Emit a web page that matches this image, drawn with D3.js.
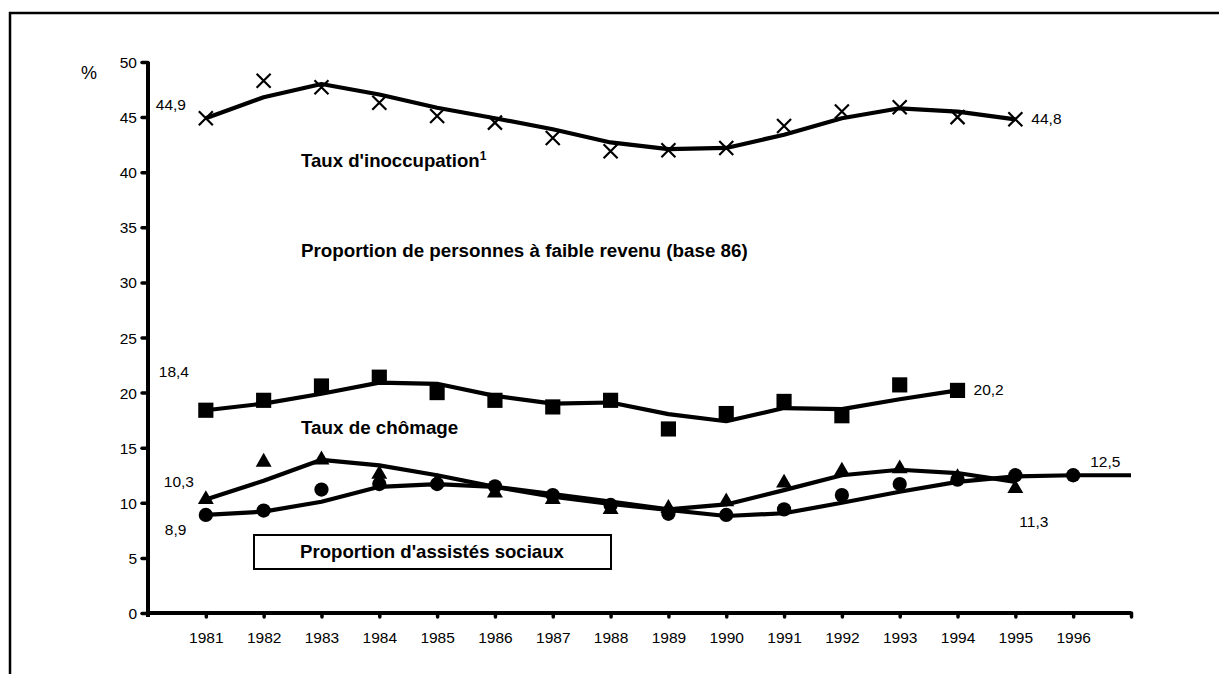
<!DOCTYPE html>
<html>
<head>
<meta charset="utf-8">
<script src="https://cdn.jsdelivr.net/npm/d3@7"></script>
<style>
  body { margin: 0; background: #fff; }
  svg text { font-family: "Liberation Sans", Arial, sans-serif; fill: #000; }
</style>
</head>
<body>
<svg id="chart" width="1219" height="674"></svg>
<script>
// ======== Data ========
const years = [1981, 1982, 1983, 1984, 1985, 1986, 1987, 1988, 1989, 1990, 1991, 1992, 1993, 1994, 1995, 1996];
const yTicks = [0, 5, 10, 15, 20, 25, 30, 35, 40, 45, 50];

// Taux d'inoccupation (raw points and smoothed line), 1981-1995
const inoccPoints = [44.9, 48.3, 47.7, 46.3, 45.1, 44.5, 43.1, 41.9, 42.0, 42.2, 44.2, 45.5, 45.9, 45.0, 44.8];
const inoccLine   = [44.9, 46.8, 48.0, 47.05, 45.85, 44.9, 43.9, 42.7, 42.1, 42.2, 43.4, 44.9, 45.8, 45.5, 44.8];

// Proportion de personnes à faible revenu, 1981-1994
const revenuPoints = [18.4, 19.3, 20.6, 21.4, 20.0, 19.3, 18.7, 19.3, 16.7, 18.1, 19.2, 17.9, 20.7, 20.2];
const revenuLine   = [18.4, 19.0, 19.9, 20.9, 20.8, 19.7, 19.0, 19.1, 18.05, 17.4, 18.6, 18.5, 19.4, 20.2];

// Taux de chômage, 1981-1995
const chomPoints = [10.3, 13.7, 13.9, 12.6, 11.9, 10.9, 10.3, 9.4, 9.5, 10.1, 11.8, 12.9, 13.1, 12.3, 11.3];
const chomLine   = [10.3, 12.0, 13.9, 13.4, 12.5, 11.45, 10.8, 10.1, 9.4, 9.85, 11.15, 12.5, 13.0, 12.7, 11.9];

// Proportion d'assistés sociaux, points 1981-1996, line 1981-1997
const assistPoints = [8.9, 9.3, 11.2, 11.7, 11.7, 11.5, 10.7, 9.8, 9.0, 8.9, 9.4, 10.7, 11.7, 12.1, 12.5, 12.5];
const assistLine   = [8.9, 9.2, 10.1, 11.45, 11.7, 11.45, 10.55, 9.9, 9.35, 8.8, 9.05, 10.0, 11.0, 11.9, 12.4, 12.5, 12.5];

// ======== Setup ========
const svg = d3.select('#chart');

const x = d3.scaleLinear().domain([1980, 1997]).range([148, 1131]);
const y = d3.scaleLinear().domain([0, 50]).range([613, 62]);

// outer frame (runs off the right and bottom edges)
svg.append('rect')
    .attr('x', 10).attr('y', 13)
    .attr('width', 1240).attr('height', 700)
    .attr('fill', 'none').attr('stroke', '#000').attr('stroke-width', 2.5);

// ======== Axes ========
const yAxis = svg.append('g').attr('transform', 'translate(' + x(1980) + ',0)')
    .call(d3.axisLeft(y).tickValues(yTicks).tickSize(6).tickPadding(5));
const xAxis = svg.append('g').attr('transform', 'translate(0,' + y(0) + ')')
    .call(d3.axisBottom(x).tickValues(years.concat([1997])).tickSize(4).tickPadding(15)
        .tickFormat(d => d === 1997 ? '' : d));

[yAxis, xAxis].forEach(function (g) {
    g.select('.domain').remove();
    g.selectAll('line').attr('stroke', '#000').attr('stroke-width', 3.5).attr('stroke-linecap', 'round');
    g.selectAll('text').attr('font-size', 15.5).attr('fill', '#000')
        .style('font-family', '"Liberation Sans", Arial, sans-serif');
});
yAxis.selectAll('text').attr('dy', '0.36em');

svg.append('line')
    .attr('x1', x(1980)).attr('x2', x(1980))
    .attr('y1', y(50)).attr('y2', y(0) + 4)
    .attr('stroke', '#000').attr('stroke-width', 4);
svg.append('line')
    .attr('x1', x(1980)).attr('x2', x(1997))
    .attr('y1', y(0)).attr('y2', y(0))
    .attr('stroke', '#000').attr('stroke-width', 4);

// ======== Series ========
const line = d3.line()
    .x((d, i) => x(1981 + i))
    .y(d => y(d));

function drawLine(values) {
    svg.append('path')
        .datum(values)
        .attr('d', line)
        .attr('fill', 'none')
        .attr('stroke', '#000')
        .attr('stroke-width', 4.2)
        .attr('stroke-linejoin', 'round');
}

function drawSymbols(values, type, size) {
    svg.append('g').selectAll('path')
        .data(values)
        .enter().append('path')
        .attr('transform', (d, i) => 'translate(' + x(1981 + i) + ',' + y(d) + ')')
        .attr('d', d3.symbol().type(type).size(size))
        .attr('fill', '#000');
}

// X markers for taux d'inoccupation
svg.append('g').selectAll('path')
    .data(inoccPoints)
    .enter().append('path')
    .attr('transform', (d, i) => 'translate(' + x(1981 + i) + ',' + y(d) + ')')
    .attr('d', 'M-7,-7L7,7M-7,7L7,-7')
    .attr('stroke', '#000').attr('stroke-width', 2.2).attr('fill', 'none');
drawLine(inoccLine);

drawSymbols(revenuPoints, d3.symbolSquare, 230);
drawLine(revenuLine);

drawSymbols(chomPoints, d3.symbolTriangle, 110);
drawLine(chomLine);

drawSymbols(assistPoints, d3.symbolCircle, 160);
drawLine(assistLine);

// ======== Labels ========
function label(text, px, py, opts) {
    opts = opts || {};
    return svg.append('text')
        .attr('x', px).attr('y', py)
        .attr('font-size', opts.size || 15.5)
        .attr('font-weight', opts.bold ? 'bold' : 'normal')
        .attr('text-anchor', opts.anchor || 'start')
        .text(text);
}

label('%', 81, 79, {size: 18});

// value labels next to the first / last points
label('44,9', x(1981) - 50, y(inoccLine[0]) - 8);
label('44,8', x(1995) + 16, y(inoccLine[14]) + 5);
label('18,4', x(1981) - 47, y(revenuLine[0]) - 33);
label('20,2', x(1994) + 16, y(revenuLine[13]) + 5);
label('10,3', x(1981) - 42, y(chomLine[0]) - 12);
label('11,3', x(1995) + 4, y(chomPoints[14]) + 39);
label('8,9', x(1981) - 41, y(assistLine[0]) + 20);
label('12,5', x(1996) + 17, y(assistLine[15]) - 8);

// series names
const t = label("Taux d'inoccupation", 301, 167, {bold: true, size: 18.6});
t.append('tspan').attr('font-size', 12).attr('dy', -7).text('1');
label('Proportion de personnes à faible revenu (base 86)', 301, 257, {bold: true, size: 18.8});
label('Taux de chômage', 301, 434, {bold: true, size: 18.8});

svg.append('rect')
    .attr('x', 254).attr('y', 535)
    .attr('width', 357).attr('height', 34)
    .attr('fill', '#fff').attr('stroke', '#000').attr('stroke-width', 2);
label("Proportion d'assistés sociaux", 432, 558, {bold: true, size: 18.6, anchor: 'middle'});
</script>
</body>
</html>
